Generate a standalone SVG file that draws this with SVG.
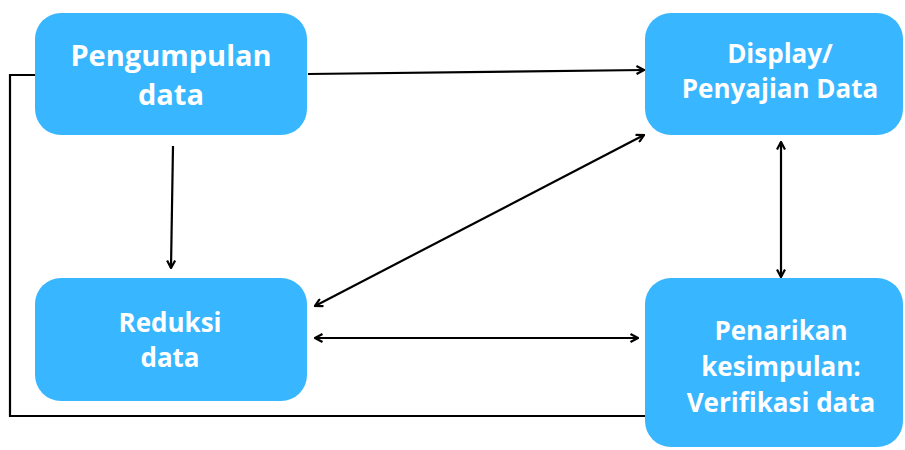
<svg xmlns="http://www.w3.org/2000/svg" width="905" height="450" viewBox="0 0 905 450">
<style>
.box{fill:#38B6FF}
.t{font-family:"Open Sans","Noto Sans",sans-serif;font-weight:700;font-size:26px;fill:#ffffff;text-anchor:middle}
.big{font-size:29px}
.c{fill:none;stroke:#000;stroke-width:2.2}
</style>
<defs>
<marker id="ah" viewBox="0 0 10 10" refX="9" refY="5" markerWidth="10" markerHeight="10" markerUnits="userSpaceOnUse" orient="auto-start-reverse">
<path d="M1.5,1 L9,5 L1.5,9" fill="none" stroke="#000" stroke-width="2.2"/>
</marker>
</defs>
<rect width="905" height="450" fill="#ffffff"/>
<g id="connectors">
<path class="c" d="M308,74 L644,70" marker-end="url(#ah)"/>
<path class="c" d="M173,146 L171,268" marker-end="url(#ah)"/>
<path class="c" d="M315,306 L644,135" marker-start="url(#ah)" marker-end="url(#ah)"/>
<path class="c" d="M315,338 L638,338" marker-start="url(#ah)" marker-end="url(#ah)"/>
<path class="c" d="M781,142 L781,277" marker-start="url(#ah)" marker-end="url(#ah)"/>
<path class="c" d="M646,416 L10,416 L10,75 L36,75"/>
</g>
<g id="pengumpulan">
<rect class="box" x="35" y="13" width="272" height="122" rx="26"/>
<text class="t big" x="171" y="66">Pengumpulan</text>
<text class="t big" x="171" y="105">data</text>
</g>
<g id="display">
<rect class="box" x="645" y="13" width="258" height="122" rx="26"/>
<text class="t" x="780" y="63">Display/</text>
<text class="t" x="780" y="98">Penyajian Data</text>
</g>
<g id="reduksi">
<rect class="box" x="35" y="278" width="272" height="123" rx="26"/>
<text class="t" x="170" y="332">Reduksi</text>
<text class="t" x="170" y="367">data</text>
</g>
<g id="penarikan">
<rect class="box" x="645" y="278" width="258" height="169" rx="26"/>
<text class="t" x="781" y="340">Penarikan</text>
<text class="t" x="781" y="376">kesimpulan:</text>
<text class="t" x="781" y="412">Verifikasi data</text>
</g>
</svg>
